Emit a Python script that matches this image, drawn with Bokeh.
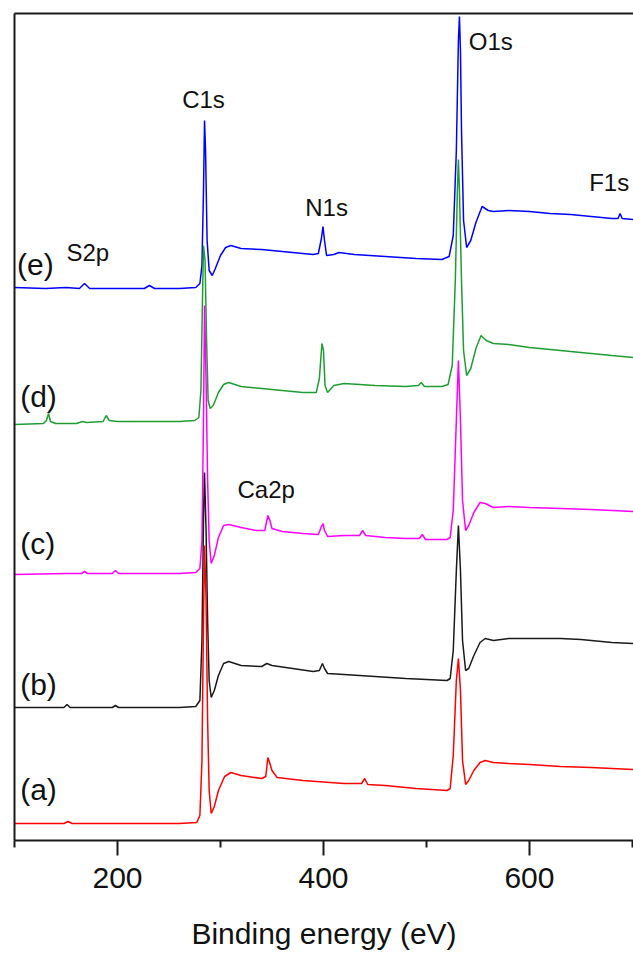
from bokeh.plotting import figure
from bokeh.models import ColumnDataSource, FixedTicker, LinearAxis, Range1d
from bokeh.core.properties import value
from bokeh.embed import file_html
from bokeh.resources import INLINE

# ---------------- data (binding energy in eV, intensity in a.u., stacked) -------------
e_energy = [100, 130, 150, 163, 168, 173, 200, 226, 231, 236, 260, 276, 280, 282, 283.5, 284.5,
            285.5, 287, 289, 292, 295, 300, 305, 310, 320, 340, 370, 390, 395, 398, 399.5, 401,
            403, 410, 415, 430, 460, 490, 515, 522, 526, 529, 531, 532, 533, 534, 536, 539, 543,
            548, 554, 560, 565, 580, 600, 620, 640, 660, 680, 686, 688, 690, 701]
e_int = [553, 552, 553, 552, 557, 552, 552, 552, 555, 552, 552, 553, 557, 575, 650, 720,
         690, 600, 570, 565, 572, 585, 593, 595, 592, 591, 588, 586, 587, 602, 614, 600,
         585, 586, 588, 586, 584, 582, 581, 584, 605, 690, 800, 824, 790, 710, 620, 593, 600,
         618, 634, 630, 629, 630, 629, 627, 626, 624, 622, 622, 627, 622, 621]

d_energy = [100, 128, 131, 133, 135, 140, 160, 166, 170, 186, 189, 192, 200, 230, 260, 275, 279,
            281, 282.5, 283.5, 285, 286.5, 288, 290, 293, 298, 303, 308, 320, 350, 380, 393, 396,
            398.5, 400, 401.5, 404, 410, 420, 450, 480, 492, 495, 498, 515, 521, 525, 528, 530,
            531, 532, 534, 536, 539, 543, 548, 553, 558, 565, 580, 600, 630, 660, 680, 701]
d_int = [416, 417, 420, 427, 419, 417, 417, 419, 418, 419, 425, 420, 419, 419, 419, 420, 423,
         450, 540, 595, 580, 500, 440, 432, 435, 448, 456, 458, 454, 451, 448, 448, 462,
         497, 490, 455, 448, 455, 457, 455, 454, 455, 458, 454, 454, 456, 475, 560, 650,
         681, 650, 560, 490, 465, 472, 492, 505, 500, 497, 496, 493, 490, 487, 485, 483]

c_energy = [100, 150, 165, 168, 171, 195, 198, 201, 230, 260, 276, 280, 282, 283.5, 284.5, 286,
            287.5, 289, 291, 294, 298, 303, 308, 320, 335, 343, 346, 348, 350, 360, 380, 395,
            398, 399.5, 401, 404, 420, 435, 438, 441, 460, 480, 493, 496, 499, 520, 523, 526,
            529, 531, 533, 535, 538, 541, 546, 552, 557, 565, 580, 600, 630, 660, 701]
c_int = [266, 267, 267, 269, 267, 267, 270, 267, 267, 267, 268, 272, 300, 420, 535, 460,
         360, 300, 277, 285, 303, 315, 316, 313, 310, 310, 325, 320, 312, 309, 307, 306,
         314, 317, 310, 304, 305, 305, 310, 305, 303, 302, 302, 306, 301, 301, 303, 330,
         420, 480, 420, 340, 310, 315, 328, 338, 337, 333, 334, 333, 332, 331, 329]

b_energy = [100, 148, 151, 154, 195, 198, 201, 260, 276, 280, 282, 283.5, 284.5, 286, 287.5,
            289, 291, 294, 298, 303, 308, 320, 340, 345, 350, 370, 390, 396, 399, 401, 404,
            420, 450, 480, 500, 520, 523, 526, 529, 531, 533, 535, 538, 541, 546, 552, 557,
            565, 580, 600, 630, 650, 680, 701]
b_int = [133, 133, 136, 133, 133, 135, 133, 133, 134, 140, 200, 320, 368, 310, 220,
         160, 143, 150, 165, 177, 179, 175, 174, 177, 175, 172, 169, 170, 177, 172, 167,
         166, 164, 162, 161, 160, 162, 190, 270, 315, 270, 200, 170, 172, 185, 198, 202,
         200, 202, 202, 202, 201, 198, 197]

a_energy = [100, 148, 152, 156, 200, 260, 277, 280, 282, 283.5, 284.5, 286, 287.5, 289, 291,
            294, 298, 304, 310, 320, 340, 344, 346, 348, 350, 355, 380, 420, 437, 440, 443,
            460, 470, 490, 520, 523, 526, 529, 531, 533, 535, 538, 541, 546, 552, 557, 565,
            580, 600, 630, 660, 701]
a_int = [17, 17, 19, 17, 17, 17, 18, 25, 80, 220, 295, 240, 120, 50, 27,
         34, 50, 64, 68, 65, 62, 64, 83, 77, 70, 63, 60, 57, 57, 62, 56,
         55, 54, 52, 50, 52, 85, 160, 182, 150, 80, 56, 60, 70, 78, 80, 78,
         77, 76, 74, 73, 71]

series_names = ["(e)", "(d)", "(c)", "(b)", "(a)"]
series_colors = ["#0000ff", "#1e9e32", "#ff00ff", "#1a1a1a", "#ff0000"]

panel_x = [102.5, 105.5, 105.5, 105.5, 105.5]
panel_y = [576, 444, 297, 156, 51]

peak_labels = ["S2p", "C1s", "N1s", "O1s", "F1s", "Ca2p"]
peak_x = [150.5, 283.5, 403, 541, 658, 316.5]
peak_y = [588, 741, 633, 799, 658, 351]
peak_align = ["left", "center", "center", "left", "left", "left"]

x_ticks = [200, 400, 600]
x_minor = [100, 300, 500, 700]

# ---------------- figure ----------------
FONT = "Liberation Sans"
p = figure(width=633, height=958, output_backend="svg", toolbar_location=None,
           x_range=Range1d(100, 701), y_range=Range1d(0, 827),
           min_border_left=14, min_border_right=0, min_border_top=13, min_border_bottom=118,
           x_axis_location="below", y_axis_location="left")
p.outline_line_color = None
p.grid.visible = False
p.background_fill_color = "white"
p.border_fill_color = "white"

# bottom axis
xa = p.xaxis[0]
xa.ticker = FixedTicker(ticks=x_ticks, minor_ticks=x_minor)
xa.axis_line_width = 2
xa.axis_line_color = "#1a1a1a"
xa.major_tick_line_width = 2
xa.minor_tick_line_width = 2
xa.major_tick_line_color = "#1a1a1a"
xa.minor_tick_line_color = "#1a1a1a"
xa.major_tick_in = 0
xa.major_tick_out = 15
xa.minor_tick_in = 0
xa.minor_tick_out = 7
xa.major_label_text_font = FONT
xa.major_label_text_font_size = "30px"
xa.major_label_text_color = "#111111"
xa.major_label_standoff = 12
xa.axis_label = "Binding energy (eV)"
xa.axis_label_text_font = FONT
xa.axis_label_text_font_size = "30px"
xa.axis_label_text_font_style = "normal"
xa.axis_label_text_color = "#111111"
xa.axis_label_standoff = 26

# left axis: just the frame line
ya = p.yaxis[0]
ya.ticker = FixedTicker(ticks=[])
ya.axis_line_width = 2
ya.axis_line_color = "#1a1a1a"
ya.major_tick_out = 0
ya.major_tick_in = 0
ya.minor_tick_out = 0
ya.minor_tick_in = 0
ya.major_label_standoff = 0
ya.major_label_text_font_size = "0px"

# top frame line
top = LinearAxis(ticker=FixedTicker(ticks=[]), axis_line_width=2, axis_line_color="#1a1a1a",
                 major_tick_out=0, major_tick_in=0, minor_tick_out=0, minor_tick_in=0,
                 major_label_standoff=0, major_label_text_font_size="0px")
p.add_layout(top, "above")

# spectra (drawn e first, a last)
for en, it, col in [(e_energy, e_int, series_colors[0]), (d_energy, d_int, series_colors[1]),
                    (c_energy, c_int, series_colors[2]), (b_energy, b_int, series_colors[3]),
                    (a_energy, a_int, series_colors[4])]:
    p.line(x=en, y=it, line_color=col, line_width=1.5)

# panel labels
p.text(x=panel_x, y=panel_y, text=series_names, text_font=value(FONT),
       text_font_size="30px", text_color="#111111", text_baseline="alphabetic", text_align="left")

# peak labels
src = ColumnDataSource(dict(x=peak_x, y=peak_y, t=peak_labels, a=peak_align))
p.text(x="x", y="y", text="t", text_align="a", source=src, text_font=value(FONT),
       text_font_size="24px", text_color="#111111", text_baseline="alphabetic")

open("out.html", "w").write(file_html(p, INLINE))
